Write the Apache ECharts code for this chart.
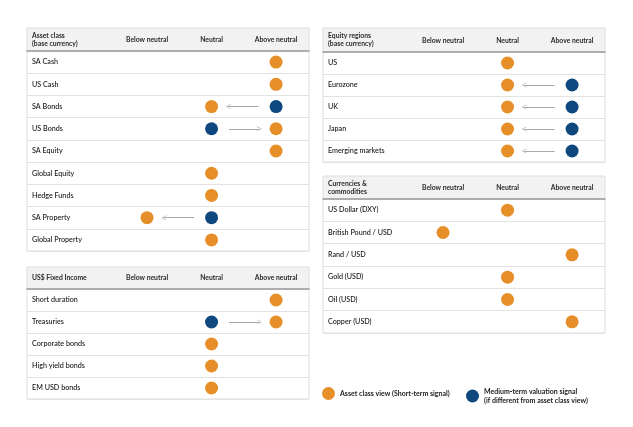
<!DOCTYPE html>
<html>
<head>
<meta charset="utf-8">
<script src="https://cdn.jsdelivr.net/npm/echarts@6/dist/echarts.min.js"></script>
<style>
  html, body { margin: 0; padding: 0; background: #ffffff; }
  #chart { width: 633px; height: 427px; }
</style>
</head>
<body>
<div id="chart"></div>
<script>
// column headers (1 = below, 2 = neutral, 3 = above)
var columns = ['Below neutral', 'Neutral', 'Above neutral'];

var assetRows = ['SA Cash', 'US Cash', 'SA Bonds', 'US Bonds', 'SA Equity', 'Global Equity', 'Hedge Funds', 'SA Property', 'Global Property'];
var assetView = [3, 3, 2, 3, 3, 2, 2, 1, 2];
var assetValuation = [null, null, 3, 2, null, null, null, 2, null];

var fixedRows = ['Short duration', 'Treasuries', 'Corporate bonds', 'High yield bonds', 'EM USD bonds'];
var fixedView = [3, 3, 2, 2, 2];
var fixedValuation = [null, 2, null, null, null];

var equityRows = ['US', 'Eurozone', 'UK', 'Japan', 'Emerging markets'];
var equityView = [2, 2, 2, 2, 2];
var equityValuation = [null, 3, 3, 3, 3];

var fxRows = ['US Dollar (DXY)', 'British Pound / USD', 'Rand / USD', 'Gold (USD)', 'Oil (USD)', 'Copper (USD)'];
var fxView = [2, 1, 3, 2, 2, 3];
var fxValuation = [null, null, null, null, null, null];

var viewName = 'Asset class view (Short-term signal)';
var valName = 'Medium-term valuation signal\n(if different from asset class view)';

var ORANGE = '#e68f29';
var BLUE = '#0f487e';
var FONT = 'Lato';

var panels = [
  { head: 'Asset class\n(base currency)', rows: assetRows, view: assetView, val: assetValuation,
    x: 27, top: 28, headH: 23, h: 200 },
  { head: 'US$ Fixed Income', rows: fixedRows, view: fixedView, val: fixedValuation,
    x: 27, top: 267, headH: 22, h: 110 },
  { head: 'Equity regions\n(base currency)', rows: equityRows, view: equityView, val: equityValuation,
    x: 323, top: 28, headH: 24, h: 110 },
  { head: 'Currencies &\ncommodities', rows: fxRows, view: fxView, val: fxValuation,
    x: 323, top: 176, headH: 23, h: 134 }
];

var W = 282;

var grids = [], xAxes = [], yAxes = [], series = [], titles = [], graphics = [];

panels.forEach(function (p, i) {
  grids.push({ left: p.x, top: p.top + p.headH, width: W, height: p.h,
    show: true, borderColor: '#dedede', borderWidth: 1 });

  xAxes.push({
    gridIndex: i, type: 'value', position: 'top', min: -0.86, max: 3.51,
    axisLine: { show: true, lineStyle: { color: '#9c9c9c', width: 1.5 } },
    axisTick: { show: false }, splitLine: { show: false },
    axisLabel: {
      customValues: [1, 2, 3], margin: 8,
      formatter: function (v) { return columns[Math.round(v) - 1] || ''; },
      fontFamily: FONT, fontSize: 6.8, fontWeight: 'bold', color: '#2a2a2a'
    }
  });

  yAxes.push({
    gridIndex: i, type: 'category', inverse: true, data: p.rows,
    axisLine: { show: false }, axisTick: { show: false },
    splitLine: { show: true, lineStyle: { color: '#e2e2e2', width: 1 } },
    axisLabel: { inside: true, margin: 5, fontFamily: FONT, fontSize: 7.2, fontWeight: 500, color: '#111' }
  });

  var viewData = [], valData = [], arrows = [];
  p.rows.forEach(function (r, k) {
    if (p.view[k] != null) viewData.push([p.view[k], k]);
    if (p.val[k] != null) {
      valData.push([p.val[k], k]);
      var dir = p.view[k] > p.val[k] ? 1 : -1;
      arrows.push({ coords: [[p.val[k] + dir * 0.27, k], [p.view[k] - dir * 0.26, k]] });
    }
  });

  series.push({
    type: 'lines', coordinateSystem: 'cartesian2d', xAxisIndex: i, yAxisIndex: i,
    silent: true, data: arrows,
    symbol: ['none', 'path://M0,10 L5,0 L10,10 L8.8,10 L5,2.6 L1.2,10 Z'],
    symbolSize: [6, 5],
    lineStyle: { color: '#a9a9a9', width: 1, opacity: 1 }
  });
  series.push({
    name: viewName, type: 'scatter', xAxisIndex: i, yAxisIndex: i,
    symbol: 'circle', symbolSize: 13, itemStyle: { color: ORANGE, opacity: 1 }, data: viewData
  });
  series.push({
    name: valName, type: 'scatter', xAxisIndex: i, yAxisIndex: i,
    symbol: 'circle', symbolSize: 13, itemStyle: { color: BLUE, opacity: 1 }, data: valData
  });

  titles.push({
    text: p.head, left: p.x + 5,
    top: p.top + p.headH / 2 - (p.head.indexOf('\n') >= 0 ? 8 : 4),
    padding: 0,
    textStyle: { fontFamily: FONT, fontSize: 6.8, fontWeight: 'bold', color: '#2a2a2a', lineHeight: 8 }
  });

  graphics.push({
    type: 'rect', z: -1,
    shape: { x: p.x, y: p.top, width: W, height: p.headH },
    style: { fill: '#f2f2f2', stroke: '#dedede', lineWidth: 1 }
  });
});

var chart = echarts.init(document.getElementById('chart'));
chart.setOption({
  backgroundColor: '#ffffff',
  animation: false,
  title: titles,
  grid: grids,
  xAxis: xAxes,
  yAxis: yAxes,
  graphic: graphics,
  legend: [
    { data: [viewName], left: 322, top: 387, padding: 0, itemWidth: 13, itemHeight: 13, icon: 'circle',
      textStyle: { fontFamily: FONT, fontSize: 7, fontWeight: 'bold', color: '#222' } },
    { data: [valName], left: 466, top: 387, padding: 0, itemWidth: 13, itemHeight: 13, icon: 'circle',
      textStyle: { fontFamily: FONT, fontSize: 7, fontWeight: 'bold', color: '#222', lineHeight: 9 } }
  ],
  series: series
});
window.onresize = function () { chart.resize(); };
</script>
</body>
</html>
